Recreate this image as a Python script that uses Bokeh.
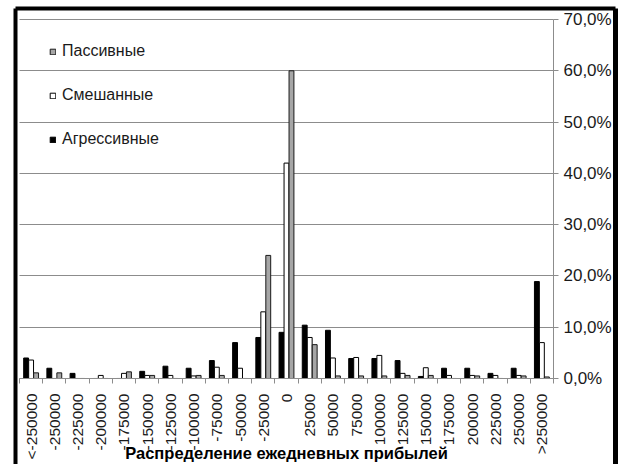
import math
from bokeh.plotting import figure
from bokeh.models import (Range1d, FixedTicker, Legend, LegendItem, LinearAxis,
                          ColumnDataSource, Grid)
from bokeh.transform import dodge
from bokeh.embed import file_html
from bokeh.resources import INLINE

categories = ["<-250000", "-250000", "-225000", "-200000", "-175000", "-150000",
              "-125000", "-100000", "-75000", "-50000", "-25000", "0", "25000",
              "50000", "75000", "100000", "125000", "150000", "175000", "200000",
              "225000", "250000", ">250000"]
aggressive = [4.0, 2.0, 1.0, 0.0, 0.0, 1.4, 2.4, 2.0, 3.5, 7.0, 8.0, 9.0, 10.4,
              9.4, 3.9, 3.9, 3.5, 0.4, 2.0, 2.0, 1.0, 2.0, 18.9]
mixed = [3.6, 0.0, 0.0, 0.6, 1.0, 0.6, 0.6, 0.5, 2.2, 2.0, 13.0, 42.0, 8.0,
         4.0, 4.1, 4.5, 1.0, 2.1, 0.6, 0.6, 0.6, 0.6, 7.0]
passive = [1.1, 1.1, 0.0, 0.0, 1.3, 0.6, 0.0, 0.6, 0.6, 0.0, 24.0, 60.0, 6.6,
           0.5, 0.5, 0.5, 0.6, 0.6, 0.0, 0.5, 0.0, 0.5, 0.3]
series_names = ["Агрессивные", "Смешанные", "Пассивные"]
y_ticks = [0, 10, 20, 30, 40, 50, 60, 70]
y_tick_labels = ["0,0%", "10,0%", "20,0%", "30,0%", "40,0%", "50,0%", "60,0%", "70,0%"]
x_title = "Распределение ежедневных прибылей"

n = len(categories)
idx = list(range(n))
src = ColumnDataSource(dict(idx=idx, agr=aggressive, mix=mixed, pas=passive))

FONT = "Liberation Sans"
GRAY = "#8c8c8c"
TXT = "#1a1a1a"

p = figure(width=619, height=464,
           x_range=Range1d(-0.672, 25.171), y_range=Range1d(-16.769, 72.145),
           output_backend="svg", toolbar_location=None,
           x_axis_type=None, y_axis_type=None,
           min_border_left=15, min_border_right=4, min_border_top=8,
           min_border_bottom=0)
p.outline_line_color = None
p.background_fill_color = "white"
p.border_fill_color = "white"
p.grid.visible = False

bw = 0.21
r_agr = p.vbar(x=dodge("idx", -0.215, range=p.x_range), top="agr", width=bw,
               source=src, fill_color="black", line_color="black", line_width=1)
r_mix = p.vbar(x=dodge("idx", 0.0, range=p.x_range), top="mix", width=bw,
               source=src, fill_color="white", line_color="black", line_width=1)
r_pas = p.vbar(x=dodge("idx", 0.215, range=p.x_range), top="pas", width=bw,
               source=src, fill_color="#a6a6a6", line_color="#1a1a1a", line_width=1)

# horizontal grid limited to the plotting area
ygrid = Grid(dimension=1, ticker=FixedTicker(ticks=y_ticks),
             grid_line_color=GRAY, grid_line_width=1.2,
             cross_bounds=(-0.5, n - 0.5))
p.add_layout(ygrid)

# y axis (drawn at the right end of the categories)
ya = LinearAxis(ticker=FixedTicker(ticks=y_ticks), fixed_location=n - 0.5,
                bounds=(0, 70))
ya.major_label_overrides = {t: l for t, l in zip(y_ticks, y_tick_labels)}
ya.axis_line_color = GRAY
ya.major_tick_line_color = GRAY
ya.major_tick_out = 5
ya.major_tick_in = 0
ya.minor_tick_line_color = None
ya.major_label_standoff = 5
ya.major_label_text_font = FONT
ya.major_label_text_font_size = "17px"
ya.major_label_text_color = TXT
p.add_layout(ya, "right")

# x axis (categories)
xa = LinearAxis(ticker=FixedTicker(ticks=idx, minor_ticks=[i - 0.5 for i in range(n + 1)]),
                fixed_location=0, bounds=(-0.5, n - 0.5))
xa.major_label_overrides = {i: c for i, c in zip(idx, categories)}
xa.major_label_orientation = math.pi / 2
xa.axis_line_color = GRAY
xa.major_tick_line_color = None
xa.major_tick_out = 0
xa.major_tick_in = 0
xa.minor_tick_line_color = GRAY
xa.minor_tick_out = 5
xa.minor_tick_in = 0
xa.major_label_standoff = 10
xa.major_label_text_font = FONT
xa.major_label_text_font_size = "15.5px"
xa.major_label_text_color = TXT
xa.axis_label = x_title
xa.axis_label_standoff = -18
xa.axis_label_text_font = FONT
xa.axis_label_text_font_size = "16.5px"
xa.axis_label_text_font_style = "bold"
xa.axis_label_text_color = "black"
p.add_layout(xa, "below")

# black frame around the chart
for side, w in (("left", 4), ("above", 4), ("right", 5)):
    b = LinearAxis(ticker=FixedTicker(ticks=[]), axis_line_color="black",
                   axis_line_width=w, major_tick_line_color=None,
                   minor_tick_line_color=None, major_label_text_font_size="0px")
    p.add_layout(b, side)

legend = Legend(items=[LegendItem(label=series_names[2], renderers=[r_pas]),
                       LegendItem(label=series_names[1], renderers=[r_mix]),
                       LegendItem(label=series_names[0], renderers=[r_agr])],
                location=(34, 315), orientation="vertical",
                padding=0, margin=0, spacing=24, glyph_width=7, glyph_height=7,
                label_height=20, label_standoff=6,
                label_text_font=FONT, label_text_font_size="16px",
                label_text_color=TXT,
                border_line_color=None, background_fill_alpha=0)
p.add_layout(legend, "center")

open("out.html", "w").write(file_html(p, INLINE))
